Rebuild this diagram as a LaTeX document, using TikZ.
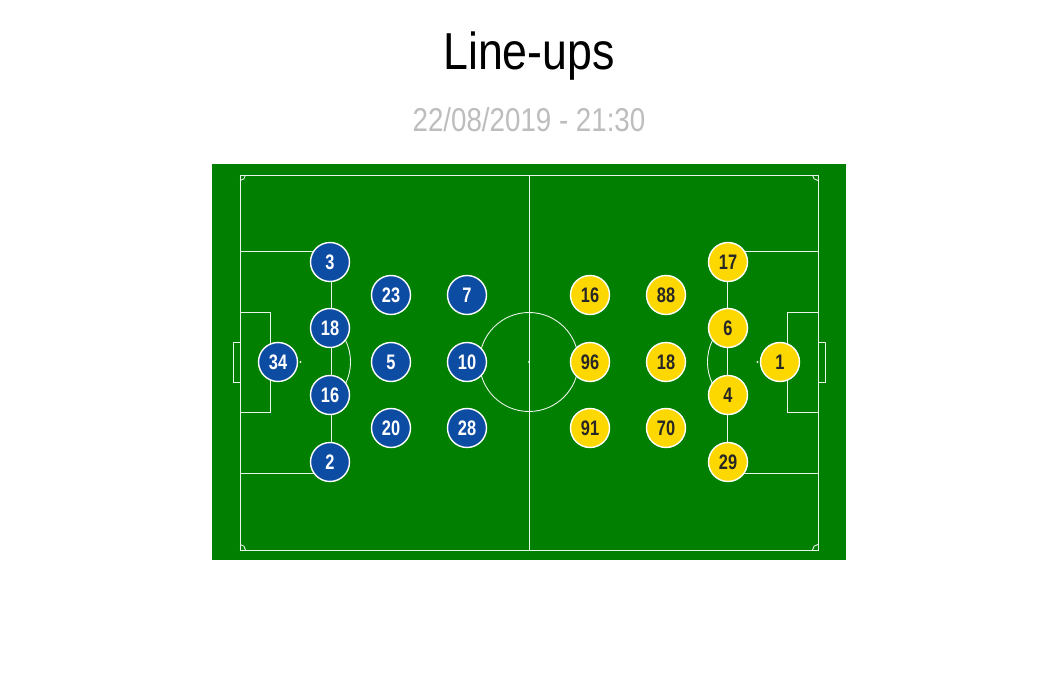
\documentclass[tikz,border=0pt]{standalone}
\usepackage{fontspec}
\setmainfont{Liberation Sans}
\newfontfamily\condfont[FakeStretch=0.78]{Liberation Sans}
\newfontfamily\titlefont[FakeStretch=0.86]{Liberation Sans}
\newfontfamily\datefont[FakeStretch=0.84]{Liberation Sans}
\definecolor{pitch}{HTML}{007F00}
\definecolor{homeblue}{HTML}{0D4CA3}
\definecolor{awayyellow}{HTML}{FCD800}
\definecolor{datetext}{HTML}{BDBDBD}
\definecolor{fieldline}{HTML}{E8F5E8}
\tikzset{
  fline/.style={draw=fieldline, line width=0.9pt},
  player/.style={circle, draw=white, line width=1.4pt, minimum size=39pt, inner sep=0pt,
    font=\condfont\bfseries\fontsize{21}{21}\selectfont},
  home/.style={player, fill=homeblue, text=white},
  away/.style={player, fill=awayyellow, text=black!85},
}
\begin{document}
\begin{tikzpicture}[x=1pt,y=-1pt]
\useasboundingbox (0,0) rectangle (1050,700);
\fill[white] (0,0) rectangle (1050,700);
% titles
\node[font=\titlefont\fontsize{52}{52}\selectfont, anchor=base] (title) at (529,70) {Line-ups};
\node[font=\datefont\fontsize{33}{33}\selectfont, text=datetext, anchor=base] (date) at (529,132) {22/08/2019 - 21:30};
% pitch
\fill[pitch] (212,164) rectangle (846,560);
\draw[fline] (240,175) rectangle (818,550);
\draw[fline] (529,175) -- (529,550);
\draw[fline] (529,362) circle (49.5);
\fill[fieldline] (529,362) circle (1.2);
% left side
\draw[fline] (240,251.5) rectangle (331,473.5);
\draw[fline] (240,312.5) rectangle (270.5,412.5);
\draw[fline] (240,342.5) rectangle (233,382.5);
\fill[fieldline] (300.5,362) circle (1.2);
\draw[fline] (331,322.4) arc[start angle=-52.4, end angle=52.4, radius=50];
% right side
\draw[fline] (818,251.5) rectangle (727,473.5);
\draw[fline] (818,312.5) rectangle (787.5,412.5);
\draw[fline] (818,342.5) rectangle (825,382.5);
\fill[fieldline] (757.5,362) circle (1.2);
\draw[fline] (727,322.4) arc[start angle=232.4, end angle=127.6, radius=50];
% corners
\draw[fline] (245.5,175) arc[start angle=0, end angle=90, radius=5.5];
\draw[fline] (245.5,550) arc[start angle=0, end angle=-90, radius=5.5];
\draw[fline] (812.5,175) arc[start angle=180, end angle=90, radius=5.5];
\draw[fline] (812.5,550) arc[start angle=180, end angle=270, radius=5.5];
% home team
\node[home] (h34) at (278,362) {34};
\node[home] (h3) at (330,262) {3};
\node[home] (h18) at (330,328) {18};
\node[home] (h16) at (330,395) {16};
\node[home] (h2) at (330,462) {2};
\node[home] (h23) at (391,295) {23};
\node[home] (h5) at (391,362) {5};
\node[home] (h20) at (391,428) {20};
\node[home] (h7) at (467,295) {7};
\node[home] (h10) at (467,362) {10};
\node[home] (h28) at (467,428) {28};
% away team
\node[away] (a1) at (780,362) {1};
\node[away] (a17) at (728,262) {17};
\node[away] (a6) at (728,328) {6};
\node[away] (a4) at (728,395) {4};
\node[away] (a29) at (728,462) {29};
\node[away] (a16) at (590,295) {16};
\node[away] (a96) at (590,362) {96};
\node[away] (a91) at (590,428) {91};
\node[away] (a88) at (666,295) {88};
\node[away] (a18) at (666,362) {18};
\node[away] (a70) at (666,428) {70};
\end{tikzpicture}
\end{document}
